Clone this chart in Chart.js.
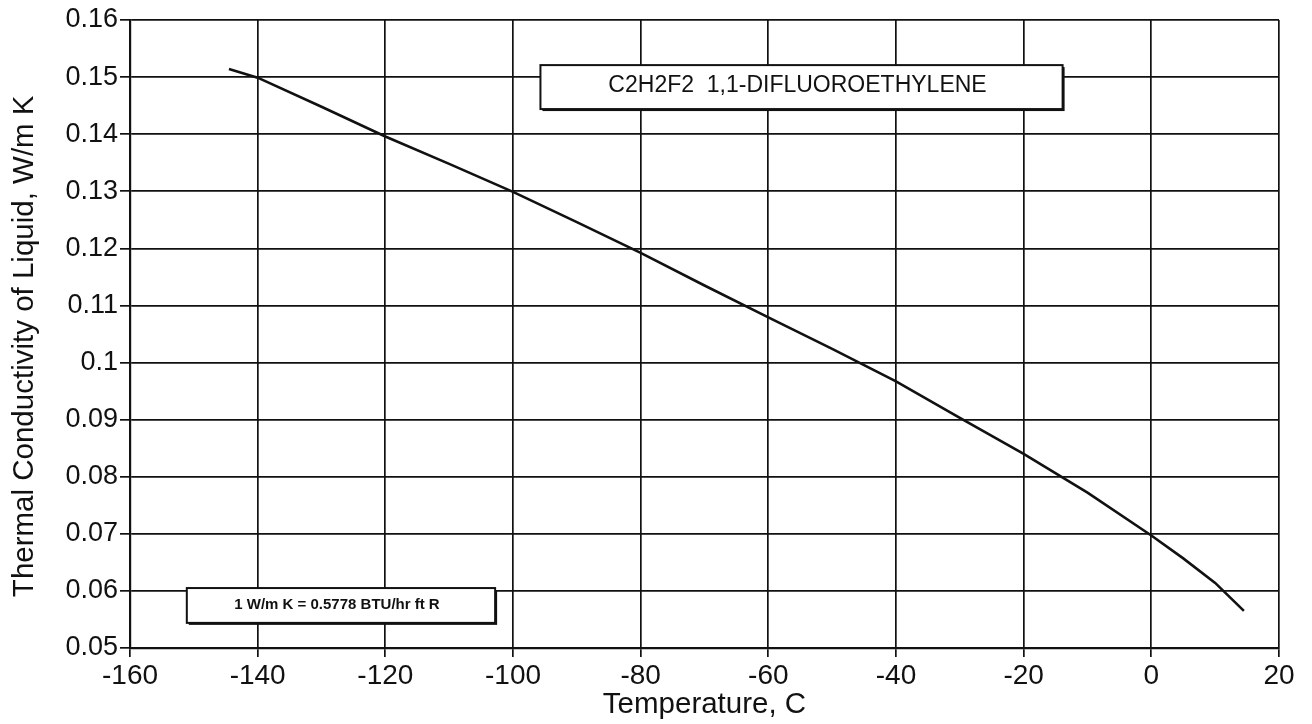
<!DOCTYPE html>
<html>
<head>
<meta charset="utf-8">
<script src="https://cdn.jsdelivr.net/npm/chart.js@4.4.1/dist/chart.umd.min.js"></script>
<style>
  html, body { margin: 0; padding: 0; background: #fff; }
  #wrap { width: 1312px; height: 724px; }
</style>
</head>
<body>
<div id="wrap"><canvas id="chart" width="1312" height="724"></canvas></div>
<script>
// temperature, C
const temps = [-144.5, -140, -130, -120, -110, -100, -90, -80, -70, -60, -50, -40, -30, -20, -10, 0, 5, 10, 14.5];
// thermal conductivity of liquid, W/m K
const conductivity = [0.1514, 0.1499, 0.1448, 0.1396, 0.1348, 0.1299, 0.1246, 0.1192, 0.1135, 0.1079,
                      0.1024, 0.0967, 0.0903, 0.0840, 0.0772, 0.0697, 0.0657, 0.0614, 0.0565];

const xTicks = [-160, -140, -120, -100, -80, -60, -40, -20, 0, 20];
const yTicks = [0.05, 0.06, 0.07, 0.08, 0.09, 0.1, 0.11, 0.12, 0.13, 0.14, 0.15, 0.16];

const titleText = 'C2H2F2  1,1-DIFLUOROETHYLENE';
const noteText = '1 W/m K = 0.5778 BTU/hr ft R';

const points = temps.map((t, i) => ({ x: t, y: conductivity[i] }));

// boxed labels, placed in data units
function drawBox(chart, x0, x1, y0, y1, text, font) {
    const ctx = chart.ctx;
    const xs = chart.scales.x, ys = chart.scales.y;
    const l = xs.getPixelForValue(x0), r = xs.getPixelForValue(x1);
    const t = ys.getPixelForValue(y0), b = ys.getPixelForValue(y1);
    ctx.save();
    ctx.fillStyle = '#111';
    ctx.fillRect(l + 2, t + 2, r - l, b - t);
    ctx.fillStyle = '#fff';
    ctx.fillRect(l, t, r - l, b - t);
    ctx.strokeStyle = '#111';
    ctx.lineWidth = 2;
    ctx.strokeRect(l, t, r - l, b - t);
    ctx.fillStyle = '#111';
    ctx.font = font;
    ctx.textAlign = 'center';
    ctx.textBaseline = 'middle';
    ctx.fillText(text, (l + r) / 2 - 4, (t + b) / 2 - 1);
    ctx.restore();
}

const boxPlugin = {
    id: 'boxes',
    afterDraw(chart) {
        drawBox(chart, -95.7, -13.9, 0.1521, 0.1444, titleText, '23px "Liberation Sans", Arial, sans-serif');
        drawBox(chart, -151.1, -102.8, 0.0605, 0.0544, noteText, 'bold 15px "Liberation Sans", Arial, sans-serif');
    }
};

const font = '"Liberation Sans", Arial, sans-serif';

const ctx = document.getElementById('chart').getContext('2d');
const chart = new Chart(ctx, {
    type: 'line',
    data: {
        datasets: [{
            data: points,
            borderColor: '#111',
            borderWidth: 2.6,
            pointRadius: 0,
            tension: 0,
            fill: false
        }]
    },
    options: {
        responsive: false,
        animation: false,
        layout: { padding: { top: 20, right: 33, left: 0, bottom: 0 } },
        plugins: { legend: { display: false }, tooltip: { enabled: false } },
        scales: {
            x: {
                type: 'linear',
                min: -160,
                max: 20,
                afterBuildTicks: (scale) => { scale.ticks = xTicks.map(v => ({ value: v })); },
                afterFit: (scale) => { scale.height = 76; },
                ticks: {
                    color: '#111',
                    padding: 2,
                    font: { family: font, size: 28 },
                    maxRotation: 0,
                    callback: (v) => String(v)
                },
                grid: { color: '#111', lineWidth: 1.7, tickLength: 9, tickColor: '#111' },
                border: { color: '#111', width: 2.2 },
                title: {
                    display: true,
                    text: 'Temperature, C',
                    color: '#111',
                    font: { family: font, size: 29.5, lineHeight: 1.2 },
                    padding: { top: 0, bottom: 1 }
                }
            },
            y: {
                type: 'linear',
                min: 0.05,
                max: 0.16,
                afterBuildTicks: (scale) => { scale.ticks = yTicks.map(v => ({ value: v })); },
                afterFit: (scale) => { scale.width = 130; },
                ticks: {
                    color: '#111',
                    padding: 2,
                    font: { family: font, size: 27 },
                    callback: (v) => String(Number(v.toFixed(2)))
                },
                grid: { color: '#111', lineWidth: 1.7, tickLength: 10, tickColor: '#111' },
                border: { color: '#111', width: 2.2 },
                title: {
                    display: true,
                    // trailing spaces nudge the rotated title down a little, as in the original
                    text: 'Thermal Conductivity of Liquid, W/m K   ',
                    color: '#111',
                    font: { family: font, size: 29.5, lineHeight: 1.2 },
                    padding: { top: 7, bottom: 0 }
                }
            }
        }
    },
    plugins: [boxPlugin]
});
</script>
</body>
</html>
